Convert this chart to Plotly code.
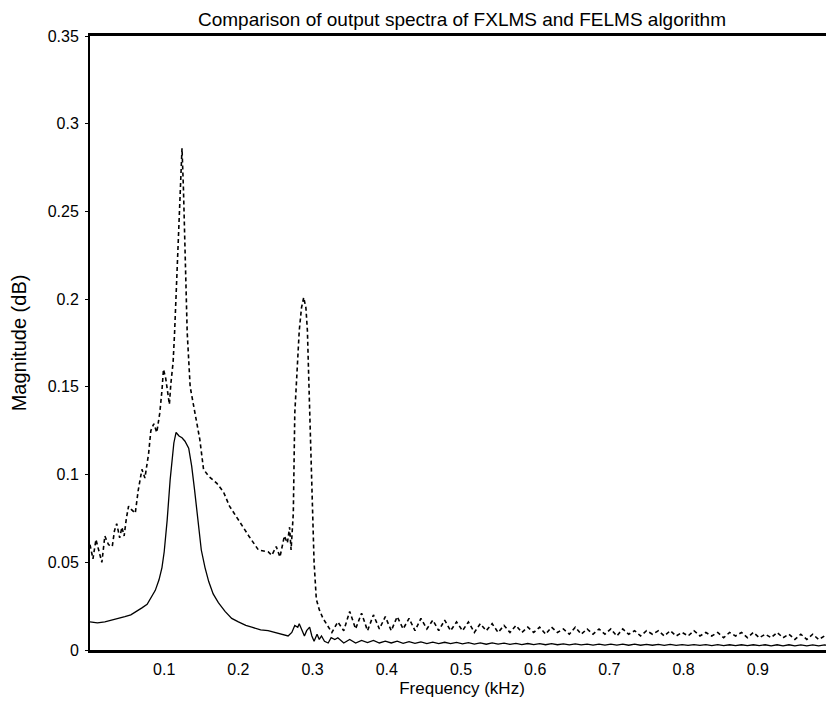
import plotly.graph_objects as go

# ---- data ----
felms_x = [0.0, 0.01, 0.02, 0.03, 0.04, 0.047, 0.055, 0.063, 0.07, 0.077, 0.083, 0.088, 0.093, 0.097,
           0.1, 0.104, 0.108, 0.111, 0.113, 0.116, 0.12, 0.124, 0.128, 0.133, 0.137, 0.141, 0.146, 0.15,
           0.155, 0.16, 0.166, 0.173, 0.182, 0.191, 0.2, 0.21, 0.218, 0.23, 0.24, 0.249, 0.258, 0.267,
           0.272, 0.276, 0.28, 0.282, 0.286, 0.289, 0.292, 0.296, 0.299, 0.302, 0.306, 0.309, 0.312,
           0.316, 0.321, 0.325, 0.33,
           0.334, 0.342, 0.350, 0.358, 0.366, 0.374, 0.382, 0.390, 0.398, 0.406, 0.414, 0.422, 0.430,
           0.438, 0.446, 0.454, 0.462, 0.470, 0.478, 0.486, 0.494, 0.502, 0.510, 0.518, 0.526, 0.534,
           0.542, 0.550, 0.558, 0.566, 0.574, 0.582, 0.590, 0.598, 0.606, 0.614, 0.622, 0.630, 0.638,
           0.646, 0.654, 0.662, 0.670, 0.678, 0.686, 0.694, 0.702, 0.710, 0.718, 0.726, 0.734, 0.742,
           0.750, 0.758, 0.766, 0.774, 0.782, 0.790, 0.798, 0.806, 0.814, 0.822, 0.830, 0.838, 0.846,
           0.854, 0.862, 0.870, 0.878, 0.886, 0.894, 0.902, 0.910, 0.918, 0.926, 0.934, 0.942, 0.950,
           0.958, 0.966, 0.974, 0.982, 0.990, 0.998]
felms_y = [0.016, 0.0155, 0.016, 0.017, 0.018, 0.019, 0.020, 0.022, 0.024, 0.026, 0.030, 0.034, 0.040, 0.047,
           0.056, 0.074, 0.097, 0.110, 0.118, 0.124, 0.122, 0.121, 0.119, 0.115, 0.105, 0.091, 0.073, 0.057,
           0.047, 0.039, 0.032, 0.027, 0.022, 0.018, 0.016, 0.014, 0.013, 0.0115, 0.011, 0.010, 0.009, 0.008,
           0.010, 0.014, 0.013, 0.015, 0.011, 0.008, 0.011, 0.013, 0.008, 0.005, 0.009, 0.006, 0.008,
           0.005, 0.004, 0.007, 0.006,
           0.007, 0.004, 0.006, 0.004, 0.0055, 0.0042, 0.0055, 0.004, 0.005, 0.004, 0.005, 0.0038, 0.0048,
           0.0038, 0.0046, 0.0037, 0.0045, 0.0036, 0.0044, 0.0036, 0.0043, 0.0035, 0.0042, 0.0034, 0.0041, 0.0033,
           0.004, 0.0033, 0.0039, 0.0032, 0.0038, 0.0031, 0.0037, 0.0031, 0.0036, 0.003, 0.0036, 0.003, 0.0035,
           0.0029, 0.0035, 0.0029, 0.0034, 0.0028, 0.0034, 0.0028, 0.0033, 0.0028, 0.0033, 0.0027, 0.0033, 0.0027,
           0.0032, 0.0027, 0.0032, 0.0026, 0.0032, 0.0026, 0.0031, 0.0026, 0.0031, 0.0026, 0.0031, 0.0025, 0.0031,
           0.0025, 0.003, 0.0025, 0.003, 0.0025, 0.003, 0.0025, 0.003, 0.0024, 0.003, 0.0024, 0.003, 0.0024,
           0.0029, 0.0024, 0.0029, 0.0024, 0.0029, 0.0025]

fxlms_x = [0.0, 0.004, 0.008, 0.012, 0.016, 0.02, 0.025, 0.03, 0.033, 0.036, 0.04, 0.043, 0.046, 0.049,
           0.052, 0.056, 0.061, 0.065, 0.07, 0.074, 0.077, 0.079, 0.082, 0.086, 0.09, 0.094, 0.097, 0.099,
           0.102, 0.105, 0.107, 0.109, 0.112, 0.114, 0.117, 0.119, 0.121, 0.123, 0.124, 0.126, 0.128, 0.129,
           0.131, 0.135, 0.141, 0.148, 0.153, 0.16, 0.171, 0.18, 0.188, 0.2, 0.214, 0.227, 0.24, 0.245,
           0.251, 0.256, 0.262, 0.266, 0.269, 0.271, 0.274, 0.276, 0.279, 0.282, 0.285, 0.288, 0.291, 0.293,
           0.295, 0.297, 0.299, 0.302, 0.305, 0.309, 0.314, 0.32, 0.326,
           0.334, 0.342, 0.350, 0.358, 0.366, 0.374, 0.382, 0.390, 0.398, 0.406, 0.414, 0.422, 0.430,
           0.438, 0.446, 0.454, 0.462, 0.470, 0.478, 0.486, 0.494, 0.502, 0.510, 0.518, 0.526, 0.534,
           0.542, 0.550, 0.558, 0.566, 0.574, 0.582, 0.590, 0.598, 0.606, 0.614, 0.622, 0.630, 0.638,
           0.646, 0.654, 0.662, 0.670, 0.678, 0.686, 0.694, 0.702, 0.710, 0.718, 0.726, 0.734, 0.742,
           0.750, 0.758, 0.766, 0.774, 0.782, 0.790, 0.798, 0.806, 0.814, 0.822, 0.830, 0.838, 0.846,
           0.854, 0.862, 0.870, 0.878, 0.886, 0.894, 0.902, 0.910, 0.918, 0.926, 0.934, 0.942, 0.950,
           0.958, 0.966, 0.974, 0.982, 0.990, 0.998]
fxlms_y = [0.060, 0.052, 0.063, 0.056, 0.050, 0.065, 0.060, 0.059, 0.068, 0.072, 0.064, 0.070, 0.065, 0.075,
           0.082, 0.080, 0.078, 0.091, 0.103, 0.098, 0.106, 0.112, 0.125, 0.129, 0.124, 0.135, 0.148, 0.160,
           0.155, 0.146, 0.140, 0.152, 0.164, 0.181, 0.212, 0.233, 0.260, 0.276, 0.286, 0.262, 0.228, 0.209,
           0.181, 0.150, 0.135, 0.120, 0.103, 0.099, 0.095, 0.090, 0.082, 0.074, 0.065, 0.057, 0.056, 0.054,
           0.059, 0.053, 0.065, 0.061, 0.070, 0.057, 0.078, 0.135, 0.160, 0.182, 0.195, 0.201, 0.195, 0.182,
           0.152, 0.120, 0.084, 0.050, 0.029, 0.023, 0.018, 0.014, 0.010,
           0.016, 0.011, 0.022, 0.012, 0.021, 0.011, 0.020, 0.012, 0.019, 0.011, 0.019, 0.012, 0.018,
           0.011, 0.018, 0.012, 0.017, 0.011, 0.017, 0.011, 0.016, 0.011, 0.016, 0.010, 0.015, 0.011,
           0.015, 0.010, 0.014, 0.010, 0.014, 0.010, 0.013, 0.010, 0.013, 0.009, 0.013, 0.010, 0.012,
           0.009, 0.013, 0.009, 0.012, 0.009, 0.012, 0.009, 0.012, 0.008, 0.012, 0.009, 0.011, 0.008,
           0.011, 0.009, 0.011, 0.008, 0.011, 0.008, 0.010, 0.008, 0.011, 0.008, 0.010, 0.008, 0.010,
           0.007, 0.010, 0.008, 0.010, 0.007, 0.010, 0.007, 0.009, 0.007, 0.010, 0.007, 0.009, 0.006,
           0.009, 0.006, 0.009, 0.006, 0.008, 0.006]

x_tick_vals = [0.1, 0.2, 0.3, 0.4, 0.5, 0.6, 0.7, 0.8, 0.9, 1.0]
x_tick_text = ["0.1", "0.2", "0.3", "0.4", "0.5", "0.6", "0.7", "0.8", "0.9", "1"]
y_tick_vals = [0, 0.05, 0.1, 0.15, 0.2, 0.25, 0.3, 0.35]
y_tick_text = ["0", "0.05", "0.1", "0.15", "0.2", "0.25", "0.3", "0.35"]

FONT = "Liberation Sans, Arial, sans-serif"

fig = go.Figure()
fig.add_trace(go.Scatter(x=fxlms_x, y=fxlms_y, mode="lines", name="FXLMS",
                         line=dict(color="black", width=1.6, dash="4px,3px")))
fig.add_trace(go.Scatter(x=felms_x, y=felms_y, mode="lines", name="FELMS",
                         line=dict(color="black", width=1.3)))

# the page body adds an 8px margin, so the figure is sized to fit inside it
fig.update_layout(
    width=826, height=692,
    margin=dict(l=82, r=0, t=28, b=50, autoexpand=False),
    paper_bgcolor="white", plot_bgcolor="white",
    showlegend=False,
    font=dict(family=FONT, size=16, color="black"),
    title=dict(text="Comparison of output spectra of FXLMS and FELMS algorithm",
               xref="container", yref="container",
               x=0.5496, xanchor="center", y=0.984, yanchor="middle",
               font=dict(family=FONT, size=19, color="black")),
    xaxis=dict(range=[0, 1.0027], tickvals=x_tick_vals, ticktext=x_tick_text, automargin=False,
               showgrid=False, zeroline=False, showline=True, linecolor="black", linewidth=2.5,
               mirror=True, ticks="", ticklabelstandoff=3,
               title=dict(text="Frequency (kHz)", standoff=6, font=dict(size=17))),
    yaxis=dict(range=[0, 0.35], tickvals=y_tick_vals, ticktext=y_tick_text, automargin=False,
               showgrid=False, zeroline=False, showline=True, linecolor="black", linewidth=2,
               mirror=False, ticks="outside", ticklen=3, tickcolor="black", ticklabelstandoff=3,
               title=dict(text="Magnitude (dB)", standoff=16, font=dict(size=20))),
)

fig.write_html("out.html")
